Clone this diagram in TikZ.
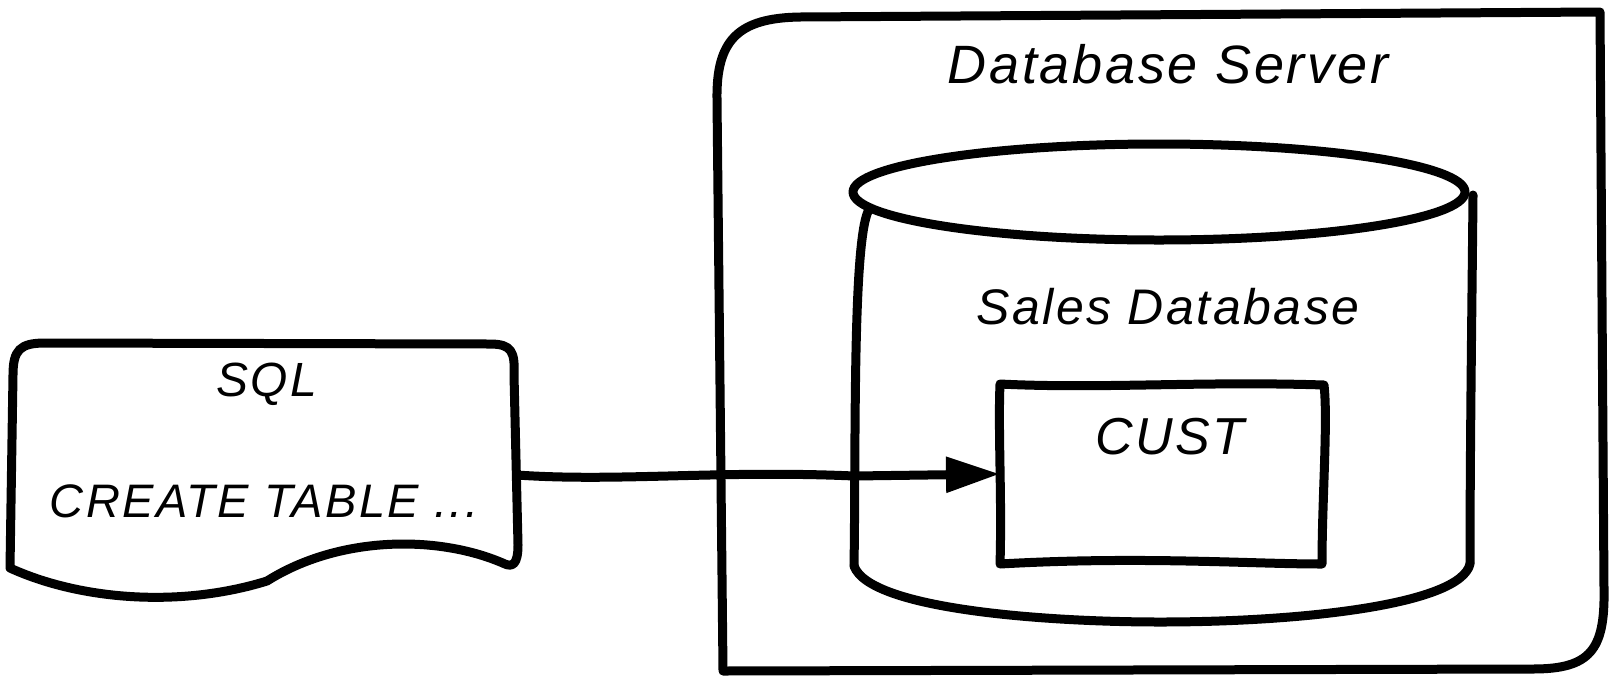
\documentclass[tikz,border=0pt]{standalone}
\usepackage{fontspec}
\setmainfont{Liberation Sans}[LetterSpace=5]
\usetikzlibrary{arrows.meta}
\begin{document}
\begin{tikzpicture}[x=1pt,y=-1pt,
  sk/.style={draw=black, line width=9pt, line cap=round, line join=round},
  ghost/.style={draw=none, inner sep=0pt, outer sep=0pt},
  lbl/.style={inner sep=0pt, font=\fontsize{#1}{#1}\selectfont\itshape}]
\useasboundingbox (0,0) rectangle (1613,678);

% invisible anchor nodes for shapes
\node[ghost, minimum width=506pt, minimum height=225pt] (sqldoc) at (264,455) {};
\node[ghost, minimum width=324pt, minimum height=180pt] (cust) at (1162,474) {};

% Database server frame
\draw[sk] (723,671) -- (717,100) .. controls (716,40) and (738,18) .. (800,17)
  -- (1600,12) -- (1604,590) .. controls (1605,650) and (1590,669) .. (1533,669) -- cycle;
\node[lbl=54] (srvlbl) at (1168,64) {Database Server};

% Sales database cylinder
\draw[sk] (1159,192) ellipse [x radius=306pt, y radius=48pt];
\draw[sk] (870,208) .. controls (852,230) and (856,450) .. (854,566);
\draw[sk] (1473,195) .. controls (1472,300) and (1470,450) .. (1470,564);
\draw[sk] (854,566) .. controls (870,610) and (1050,622) .. (1160,622)
  .. controls (1300,622) and (1460,605) .. (1470,564);
\node[lbl=50] (dblbl) at (1168,307) {Sales Database};

% CUST table
\draw[sk] (1000,384) .. controls (1100,389) and (1200,381) .. (1324,385)
  .. controls (1328,420) and (1322,500) .. (1322,564)
  .. controls (1250,564) and (1140,556) .. (1000,564)
  .. controls (1002,500) and (998,430) .. cycle;
\node[lbl=52] (custlbl) at (1170,437) {CUST};

% SQL document
\draw[sk] (10,568) -- (13,375) .. controls (13,350) and (20,343) .. (45,343)
  -- (490,344) .. controls (512,344) and (515,352) .. (514,375)
  -- (518,545) .. controls (518,565) and (512,567) .. (505,564)
  .. controls (440,535) and (340,535) .. (267,581)
  .. controls (180,608) and (80,600) .. (10,568) -- cycle;
\node[lbl=48] (sqllbl) at (267,384) {SQL};
\node[lbl=47] (createlbl) at (264,501) {CREATE TABLE ...};

% connector
\draw[sk, -{Triangle[length=54pt,width=34pt]}] ([yshift=-20pt]sqldoc.east)
  .. controls (617,482) and (720,470) .. (854,476) -- (cust.west);
\end{tikzpicture}
\end{document}
